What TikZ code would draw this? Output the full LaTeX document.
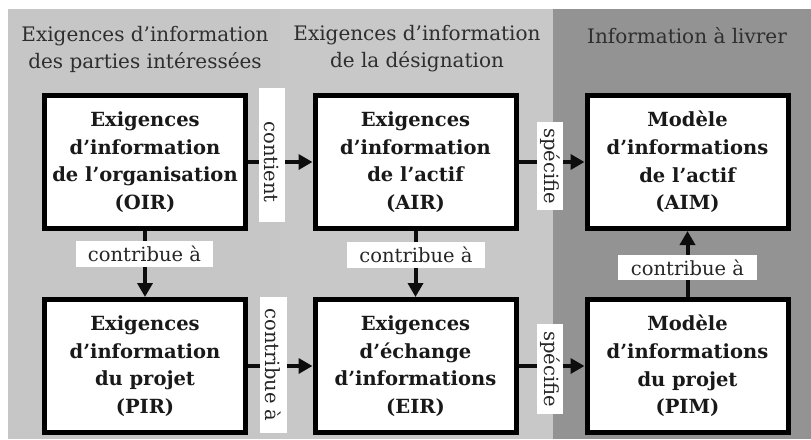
\documentclass[tikz,border=0pt]{standalone}
\usepackage{fontspec}
\setmainfont{DejaVu Serif}
\usetikzlibrary{arrows.meta}
\definecolor{panelA}{HTML}{C6C6C6}
\definecolor{panelB}{HTML}{C8C8C8}
\definecolor{panelC}{HTML}{939393}
\begin{document}
\begin{tikzpicture}[x=1pt,y=-1pt,
  box/.style={draw=black, line width=5pt, fill=white, minimum width=201pt, minimum height=133pt,
    inner sep=0pt, align=center, font=\fontsize{19.5}{27.7}\selectfont\bfseries, text=black!90},
  title/.style={align=center, inner sep=0pt, font=\fontsize{20}{27}\selectfont, text=black!82},
  lab/.style={fill=white, inner sep=0pt, font=\fontsize{19.5}{22}\selectfont, text=black!85},
  arr/.style={line width=4pt, draw=black!95, -{Triangle[length=14pt,width=15pt]}}]
\useasboundingbox (0,0) rectangle (811,439);
\fill[white] (0,0) rectangle (811,439);
\fill[panelA] (8,9) rectangle (280,439);
\fill[panelB] (280,9) rectangle (553,439);
\fill[panelC] (553,9) rectangle (811,439);
% titles
\node[title] (t1) at (145,49) {Exigences d’information\\des parties intéressées};
\node[title] (t2) at (417,49) {Exigences d’information\\de la désignation};
\node[title] (t3) at (687,36) {Information à livrer};
% boxes
\node[box] (oir) at (145,162) {Exigences\\d’information\\de l’organisation\\(OIR)};
\node[box] (air) at (415.5,162) {Exigences\\d’information\\de l’actif\\(AIR)};
\node[box] (aim) at (687.5,162) {Modèle\\d’informations\\de l’actif\\(AIM)};
\node[box] (pir) at (145,366) {Exigences\\d’information\\du projet\\(PIR)};
\node[box] (eir) at (415.5,366) {Exigences\\d’échange\\d’informations\\(EIR)};
\node[box] (pim) at (687.5,366) {Modèle\\d’informations\\du projet\\(PIM)};
% connectors
\draw[arr] (oir) -- (air);
\draw[arr] (air) -- (aim);
\draw[arr] (pir) -- (eir);
\draw[arr] (eir) -- (pim);
\draw[arr] (oir) -- (pir);
\draw[arr] (air) -- (eir);
\draw[arr] (pim) -- (aim);
% labels
\node[lab, rotate=-90, minimum width=134pt, minimum height=26pt] (l1box) at (272,155) {};
\node[lab, rotate=-90, fill=none] (l1) at (272,162) {contient};
\node[lab, rotate=-90, minimum width=88pt, minimum height=26pt] (l2) at (550,166) {spécifie};
\node[lab, rotate=-90, minimum width=136pt, minimum height=27pt] (l3) at (273.5,365) {contribue à};
\node[lab, rotate=-90, minimum width=90pt, minimum height=26pt] (l4) at (550,369) {spécifie};
\node[lab, minimum width=137pt, minimum height=26pt] (l5) at (144.5,254) {contribue à};
\node[lab, minimum width=138pt, minimum height=26pt] (l6) at (416,255) {contribue à};
\node[lab, minimum width=139pt, minimum height=25pt] (l7) at (687.5,267.5) {contribue à};
\end{tikzpicture}
\end{document}
